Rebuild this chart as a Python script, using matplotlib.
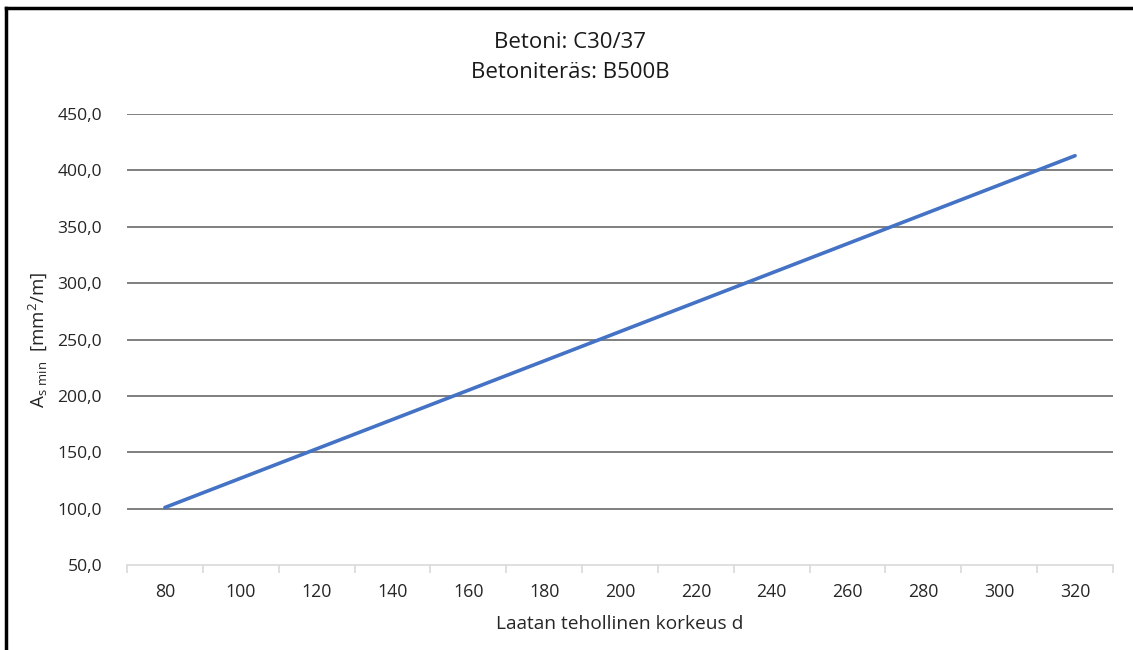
import matplotlib.pyplot as plt
from matplotlib.lines import Line2D
from matplotlib.ticker import FuncFormatter

# data
d_values = [80, 90, 100, 110, 120, 130, 140, 150, 160, 170, 180, 190, 200,
            210, 220, 230, 240, 250, 260, 270, 280, 290, 300, 310, 320]
as_min = [101, 114, 127, 140, 153, 166, 179, 192, 205, 218, 231, 244, 257,
          270, 283, 296, 309, 322, 335, 348, 361, 374, 387, 400, 413]
x_labels = list(range(80, 321, 20))
y_ticks = list(range(50, 451, 50))

title_lines = ["Betoni: C30/37", "Betoniteräs: B500B"]
x_title = "Laatan tehollinen korkeus d"
y_title = r"$\mathregular{A_{s\ min}}$  [mm$\mathregular{^2}$/m]"

plt.rcParams['font.family'] = ['Open Sans', 'DejaVu Sans']
plt.rcParams['mathtext.fontset'] = 'custom'
plt.rcParams['mathtext.rm'] = 'Open Sans'

fig = plt.figure(figsize=(11.33, 6.5), dpi=100)
ax = fig.add_axes([127 / 1133, 1 - 565 / 650, (1113 - 127) / 1133, (565 - 114) / 650])

# the line
ax.plot(d_values, as_min, color='#4472C4', linewidth=2.6, solid_capstyle='round')

# y axis
ax.set_ylim(50, 450)
ax.set_yticks(y_ticks)
ax.yaxis.set_major_formatter(FuncFormatter(lambda v, p: f"{v:.1f}".replace('.', ',')))
ax.tick_params(axis='y', length=0, pad=18, labelsize=12.6, labelcolor='#262626')
for v in y_ticks[1:]:
    ax.axhline(v, color='#7f7f7f', linewidth=1.4, zorder=0)

# x axis: labels every 20, tick marks between them
ax.set_xlim(70, 330)
ax.set_xticks(x_labels)
ax.set_xticks(list(range(70, 331, 20)), minor=True)
ax.tick_params(axis='x', which='major', length=0, pad=13, labelsize=12.8, labelcolor='#262626')
ax.tick_params(axis='x', which='minor', length=6, width=1.2, color='#d9d9d9', direction='out')

for side in ['top', 'right', 'left']:
    ax.spines[side].set_visible(False)
ax.spines['bottom'].set_color('#d9d9d9')
ax.spines['bottom'].set_linewidth(1.2)

ax.set_xlabel(x_title, fontsize=13.8, color='#262626', labelpad=10)
ax.set_ylabel(y_title, fontsize=13.5, color='#262626', labelpad=6)

fig.text(0.5035, 1 - 42 / 650, title_lines[0], ha='center', va='center', fontsize=16, color='#1a1a1a')
fig.text(0.5035, 1 - 73 / 650, title_lines[1], ha='center', va='center', fontsize=16, color='#1a1a1a')

# dark frame round the chart (top and left edge visible)
fig.add_artist(Line2D([6 / 1133, 1.0], [1 - 8 / 650, 1 - 8 / 650], color='black', linewidth=2.5,
                      transform=fig.transFigure))
fig.add_artist(Line2D([6 / 1133, 6 / 1133], [0.0, 1 - 8 / 650], color='black', linewidth=2.5,
                      transform=fig.transFigure))

fig.savefig('out.png', dpi=100)
